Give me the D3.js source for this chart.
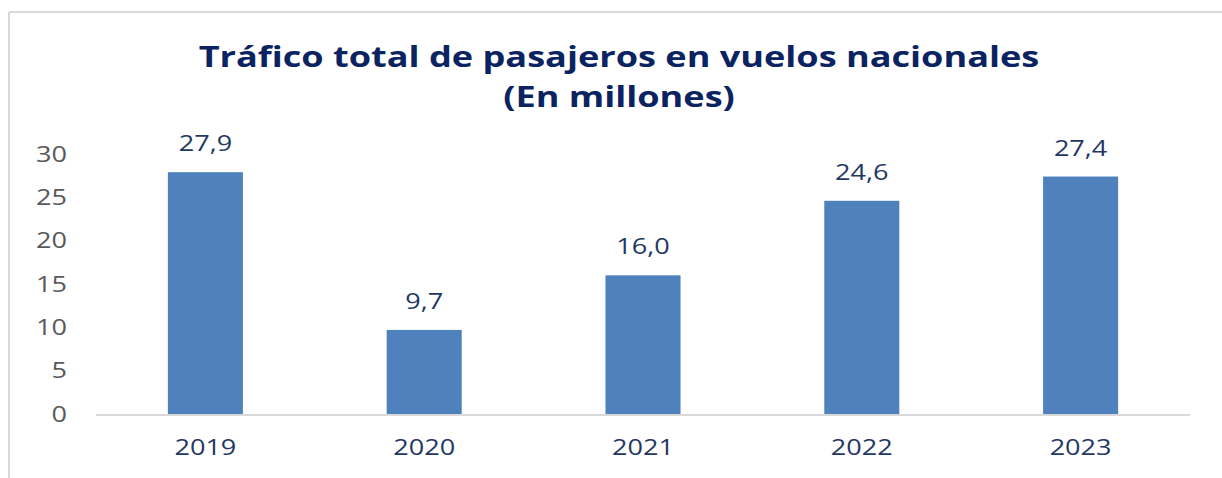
<!DOCTYPE html>
<meta charset="utf-8">
<style>
    body { margin: 0; background: #fff; }
    .tick-label { font: 21px "Open Sans", sans-serif; fill: #595959; }
    .cat-label { font: 21px "Open Sans", sans-serif; fill: #1f3864; }
    .value-label { font: 21px "Open Sans", sans-serif; fill: #1f3864; }
    .title { font: bold 28px "Open Sans", sans-serif; fill: #0b2461; }
</style>
<body>
<script src="https://d3js.org/d3.v7.min.js"></script>
<script>
    // Data
    var years = ["2019", "2020", "2021", "2022", "2023"];
    var passengers = [27.9, 9.7, 16.0, 24.6, 27.4];
    var yTicks = [0, 5, 10, 15, 20, 25, 30];
    var titleLines = ["Tráfico total de pasajeros en vuelos nacionales", "(En millones)"];

    var width = 1222, height = 478;
    var margin = { top: 154, right: 32, bottom: 64, left: 96 };
    // the source picture is stretched sideways, so text is widened too
    var stretch = 1.29;

    function place(x, y) {
        return "translate(" + x + "," + y + ") scale(" + stretch + ",1)";
    }

    var svg = d3.select("body").append("svg")
        .attr("width", width)
        .attr("height", height);

    // chart frame (only top and left edges are visible in the picture)
    svg.append("line")
        .attr("x1", 9).attr("x2", width).attr("y1", 12).attr("y2", 12)
        .attr("stroke", "#d9d9d9").attr("stroke-width", 2);
    svg.append("line")
        .attr("x1", 9).attr("x2", 9).attr("y1", 12).attr("y2", height)
        .attr("stroke", "#d9d9d9").attr("stroke-width", 2);

    var x = d3.scaleBand()
        .domain(years)
        .range([margin.left, width - margin.right])
        .paddingInner(0.657)
        .paddingOuter(0.3285);

    var y = d3.scaleLinear()
        .domain([0, 30])
        .range([height - margin.bottom, margin.top]);

    // title
    svg.append("g").selectAll("text")
        .data(titleLines)
        .enter().append("text")
        .attr("class", "title")
        .attr("transform", (d, i) => place(619, 67 + i * 40))
        .attr("text-anchor", "middle")
        .text(d => d);

    // y tick labels
    svg.append("g").selectAll("text")
        .data(yTicks)
        .enter().append("text")
        .attr("class", "tick-label")
        .attr("transform", d => place(67, y(d)))
        .attr("dy", "0.36em")
        .attr("text-anchor", "end")
        .text(d => d);

    // bars
    svg.append("g").selectAll("rect")
        .data(passengers)
        .enter().append("rect")
        .attr("x", (d, i) => x(years[i]))
        .attr("width", x.bandwidth())
        .attr("y", d => y(d))
        .attr("height", d => y(0) - y(d))
        .attr("fill", "#4f81bd");

    // value labels
    svg.append("g").selectAll("text")
        .data(passengers)
        .enter().append("text")
        .attr("class", "value-label")
        .attr("transform", (d, i) => place(x(years[i]) + x.bandwidth() / 2, y(d) - 21))
        .attr("text-anchor", "middle")
        .text(d => d.toFixed(1).replace(".", ","));

    // baseline
    svg.append("line")
        .attr("x1", margin.left).attr("x2", width - margin.right)
        .attr("y1", y(0) + 1).attr("y2", y(0) + 1)
        .attr("stroke", "#d9d9d9").attr("stroke-width", 2);

    // category labels
    svg.append("g").selectAll("text")
        .data(years)
        .enter().append("text")
        .attr("class", "cat-label")
        .attr("transform", d => place(x(d) + x.bandwidth() / 2, y(0) + 41))
        .attr("text-anchor", "middle")
        .text(d => d);
</script>
</body>
